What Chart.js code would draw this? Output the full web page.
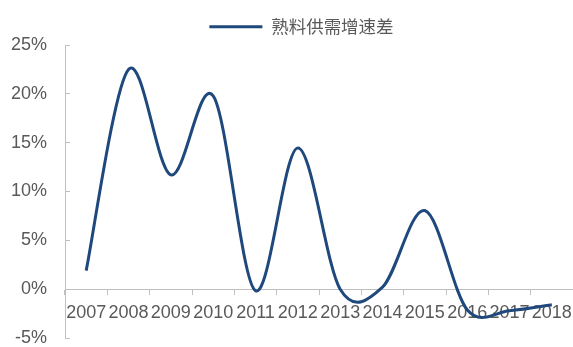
<!DOCTYPE html>
<html>
<head>
<meta charset="utf-8">
<script src="https://cdn.jsdelivr.net/npm/chart.js@4"></script>
<style>
  html, body { margin: 0; padding: 0; background: #ffffff; }
  #wrap { width: 573px; height: 347px; position: relative; }
</style>
</head>
<body>
<div id="wrap"><canvas id="c" width="573" height="347"></canvas></div>
<script>
// ---- data ----
const categories = ['2007','2008','2009','2010','2011','2012','2013','2014','2015','2016','2017','2018'];
const seriesName = '熟料供需增速差';
const seriesValues = [1.9, 22.5, 11.7, 19.8, -0.15, 14.45, 0.0, 0.2, 8.05, -2.1, -2.2, -1.6];
const yTicks = [-5, 0, 5, 10, 15, 20, 25];

const LINE_COLOR = '#1F497D';
const TEXT_COLOR = '#595959';
const AXIS_COLOR = '#BFBFBF';
const FONT = '"Liberation Sans", Arial, sans-serif';

// Excel-like (Catmull-Rom) smoothing of the line through the library-placed points
const smoothPlugin = {
  id: 'smoothPlugin',
  beforeDatasetsDraw(chart) {
    chart.data.datasets.forEach((ds, i) => {
      const meta = chart.getDatasetMeta(i);
      const pts = meta.data;
      const n = pts.length;
      for (let k = 0; k < n; k++) {
        const p = pts[k];
        const prev = pts[Math.max(k - 1, 0)];
        const next = pts[Math.min(k + 1, n - 1)];
        const dx = (next.x - prev.x) / 6, dy = (next.y - prev.y) / 6;
        p.cp1x = p.x - dx; p.cp1y = p.y - dy;
        p.cp2x = p.x + dx; p.cp2y = p.y + dy;
      }
      if (meta.dataset) { meta.dataset._pointsUpdated = true; meta.dataset._path = undefined; }
    });
  }
};

const legendPlugin = {
  id: 'legendPlugin',
  afterInit(chart) {
    const lg = chart.legend;
    if (lg && !lg._patched) {
      const fit = lg.fit;
      lg.fit = function () { fit.call(this); this.height = 45; };
      lg._patched = true;
    }
  },
  afterLayout(chart) {
    const lg = chart.legend;
    if (lg) { lg.left += 15; lg.right += 15; }
  }
};

new Chart(document.getElementById('c'), {
  type: 'line',
  data: {
    labels: categories,
    datasets: [{
      label: seriesName,
      data: seriesValues,
      borderColor: LINE_COLOR,
      backgroundColor: LINE_COLOR,
      borderWidth: 3,
      pointRadius: 0,
      pointHoverRadius: 0,
      tension: 0.35,
      fill: false
    }]
  },
  options: {
    responsive: false,
    animation: false,
    events: [],
    layout: { padding: { left: 0, right: 0, top: 0, bottom: 0 } },
    plugins: {
      tooltip: { enabled: false },
      legend: {
        display: true,
        position: 'top',
        labels: {
          boxWidth: 53,
          boxHeight: 3,
          padding: 18,
          color: TEXT_COLOR,
          font: { family: '"Noto Sans CJK SC", sans-serif', size: 17.5 },
          generateLabels() {
            return [{ text: seriesName, fillStyle: LINE_COLOR, strokeStyle: LINE_COLOR, lineWidth: 0, hidden: false, datasetIndex: 0, fontColor: TEXT_COLOR }];
          }
        }
      }
    },
    scales: {
      x: {
        type: 'category',
        position: { y: 0 },
        offset: true,
        afterFit(scale) { scale.paddingLeft = 0; scale.paddingRight = 0; },
        grid: {
          display: true,
          offset: true,
          drawOnChartArea: false,
          drawTicks: true,
          tickLength: 5,
          color: AXIS_COLOR,
          lineWidth: 1
        },
        border: { display: true, color: AXIS_COLOR, width: 1 },
        ticks: {
          color: TEXT_COLOR,
          font: { family: FONT, size: 18 },
          padding: 8,
          maxRotation: 0,
          minRotation: 0,
          autoSkip: false
        }
      },
      y: {
        min: -5,
        max: 25,
        afterBuildTicks(scale) { scale.ticks = yTicks.map(v => ({ value: v })); },
        afterFit(scale) { scale.width = 65; scale.paddingTop = 0; scale.paddingBottom = 9; },
        grid: {
          display: true,
          drawOnChartArea: false,
          drawTicks: true,
          tickLength: -5,
          color: AXIS_COLOR,
          lineWidth: 1
        },
        border: { display: true, color: AXIS_COLOR, width: 1 },
        ticks: {
          color: TEXT_COLOR,
          font: { family: FONT, size: 18 },
          padding: 23,
          callback: (v) => v + '%'
        }
      }
    }
  },
  plugins: [smoothPlugin, legendPlugin]
});
</script>
</body>
</html>
